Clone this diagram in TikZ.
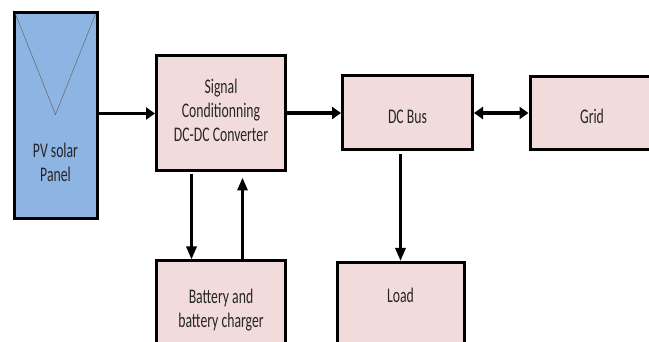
\documentclass[tikz,border=0pt]{standalone}
\usepackage{fontspec}
\setmainfont{Carlito}[FakeStretch=0.66]
\usepackage{tikz}
\usetikzlibrary{arrows.meta}
\definecolor{boxpink}{HTML}{F2DCDB}
\definecolor{panelblue}{HTML}{8EB4E3}

\begin{document}
\begin{tikzpicture}[x=1pt, y=-1pt,
  block/.style={draw=black, line width=3pt, fill=boxpink, align=center, inner sep=0pt, text=black!85, font=\fontsize{20.8}{24.3}\selectfont},
  flow/.style={-{Triangle[length=9pt,width=12pt]}, line width=3.5pt},
  drop/.style={-{Triangle[length=13pt,width=10pt]}, line width=3pt}]
% Fix the frame of the picture
\clip (0,0) rectangle (649,342);

% Define the blocks of the system
\node[block, fill=panelblue, anchor=north, minimum width=83, text height=169, text depth=37] (pv) at (55.5,11) {PV solar\\Panel};
\node[block, minimum width=129, text height=85.7, text depth=29.3] (sig) at (221,113.5) {Signal\\Conditionning\\DC-DC Converter};
\node[block, minimum width=130, text height=48, text depth=26] (bus) at (407.5,113) {DC Bus};
\node[block, minimum width=124, text height=47, text depth=25.5] (grid) at (592,113) {Grid};
\node[block, anchor=north, minimum width=127, text height=40, text depth=100] (load) at (400.5,261) {Load};
\node[block, anchor=north, minimum width=129, text height=66.5, text depth=100] (bat) at (221,259.5) {Battery and\\battery charger};

% Draw the thin mark inside the solar panel
\draw[line width=0.5pt, black!60] ([shift={(3pt,-3pt)}]pv.north west) -- ([yshift=1pt]pv.center) -- ([shift={(-3pt,-3pt)}]pv.north east);

% Draw the power flow arrows
\draw[flow] (pv.east |- sig.west) -- (sig.west);
\draw[flow] (sig.east |- bus.west) -- (bus.west);
\draw[{Triangle[length=9pt,width=12pt]}-{Triangle[length=9pt,width=12pt]}, line width=3.5pt] (bus.east) -- (grid.west);
\draw[drop, shorten <=3pt] (load.north |- bus.south) -- (load.north);

% Draw the charge and discharge arrows of the battery
\draw[drop, shorten <=2pt] ([xshift=-29.5pt]sig.south) -- ([xshift=-29.5pt]bat.north);
\draw[drop, shorten >=5pt] ([xshift=21.5pt]bat.north) -- ([xshift=21.5pt]sig.south);
\end{tikzpicture}
\end{document}
